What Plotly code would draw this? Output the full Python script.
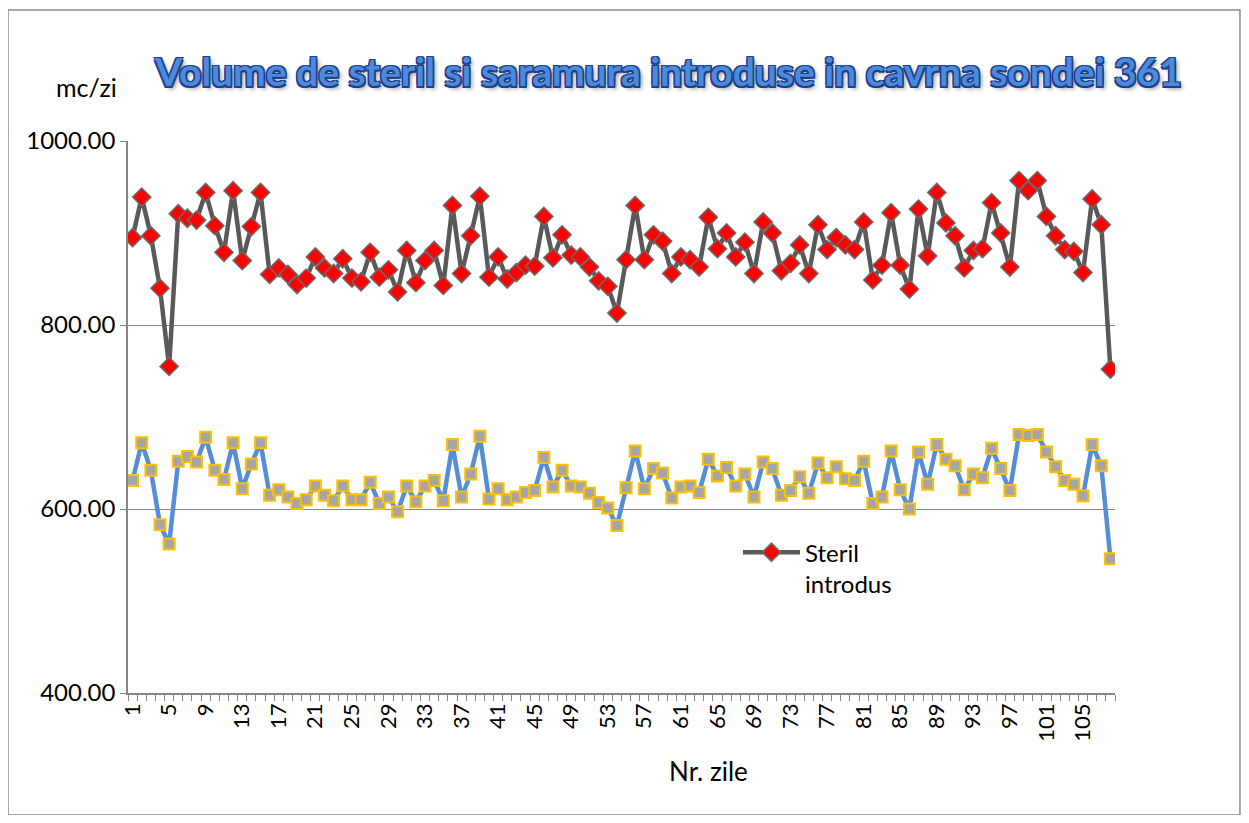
import plotly.graph_objects as go

days = list(range(1, 109))

steril = [895, 939, 897, 840, 755, 921, 916, 914, 944, 908,
          879, 946, 870, 907, 944, 855, 862, 855, 844, 851,
          874, 862, 856, 872, 851, 847, 879, 852, 860, 836,
          881, 846, 870, 881, 843, 930, 856, 897, 940, 852,
          874, 850, 857, 865, 864, 918, 873, 898, 876, 874,
          863, 848, 842, 813, 871, 930, 871, 898, 891, 856,
          874, 871, 863, 917, 883, 900, 874, 890, 856, 912,
          900, 859, 867, 887, 856, 909, 882, 895, 887, 882,
          912, 849, 865, 922, 865, 839, 926, 875, 944, 911,
          897, 862, 881, 883, 933, 900, 863, 957, 946, 957,
          918, 897, 882, 880, 857, 937, 909, 752]

saramura = [631, 672, 642, 583, 562, 652, 657, 651, 678, 642,
            632, 672, 622, 649, 672, 615, 621, 613, 606, 610,
            625, 615, 609, 625, 610, 610, 629, 606, 613, 597,
            625, 608, 625, 631, 609, 670, 613, 638, 679, 611,
            622, 610, 613, 618, 620, 656, 624, 642, 625, 624,
            617, 607, 601, 582, 623, 663, 622, 644, 639, 612,
            624, 625, 618, 654, 636, 645, 625, 638, 613, 651,
            644, 615, 620, 635, 617, 650, 634, 646, 633, 631,
            652, 606, 613, 663, 621, 600, 662, 627, 670, 654,
            647, 621, 638, 634, 666, 644, 620, 681, 680, 681,
            662, 646, 631, 627, 614, 670, 647, 546]

tick_vals = list(range(1, 109, 4))
tick_text = [str(v) for v in tick_vals]

FONT = "Lato, 'Open Sans', sans-serif"

fig = go.Figure()

fig.add_trace(go.Scatter(
    x=days, y=saramura, mode="lines+markers", name="Saramura",
    showlegend=False,
    line=dict(color="#558ED5", width=4.5),
    marker=dict(symbol="square", size=11, color="#A6A6A6",
                line=dict(color="#FFC000", width=2)),
))

fig.add_trace(go.Scatter(
    x=days, y=steril, mode="lines+markers", name="Steril<br>introdus",
    line=dict(color="#595959", width=4.5),
    marker=dict(symbol="diamond", size=14, color="#FF0000",
                line=dict(color="#6A6A6A", width=1.5)),
))

fig.update_layout(
    width=1233, height=807,
    margin=dict(l=120, r=126, t=133, b=122),
    paper_bgcolor="white", plot_bgcolor="white",
    font=dict(family=FONT, size=15, color="#000000"),
    showlegend=True,
    legend=dict(x=0.618, y=0.295, xanchor="left", yanchor="top", valign="top",
                bgcolor="rgba(0,0,0,0)", font=dict(size=24, family=FONT),
                itemwidth=57),
    xaxis=dict(
        range=[0.5, 108.5], tickmode="array", tickvals=tick_vals, ticktext=tick_text,
        tickangle=-90, ticks="", showgrid=False, zeroline=False,
        showline=True, linecolor="#868686", linewidth=1.5,
        tickfont=dict(size=22, family=FONT),
        minor=dict(ticks="outside", tick0=0.5, dtick=1, ticklen=6,
                   tickcolor="#868686", tickwidth=1, showgrid=False),
    ),
    yaxis=dict(
        range=[400, 1000], tickmode="array", tickvals=[400, 600, 800, 1000],
        tickformat=".2f", showgrid=True, gridcolor="#868686", gridwidth=1.2,
        zeroline=False, showline=True, linecolor="#868686", linewidth=1.5,
        ticks="outside", ticklen=6, tickcolor="#868686",
        tickfont=dict(size=24, family=FONT),
    ),
    annotations=[
        dict(text="Volume de steril si saramura introduse in cavrna sondei 361",
             xref="paper", yref="paper", x=0.547, y=1.126, xanchor="center", yanchor="middle",
             showarrow=False,
             font=dict(size=39, family="Lato, sans-serif", weight="bold", color="#4A8BDB",
                       shadow="-1.5px -1.5px 0 #1F3F8F, 1.5px -1.5px 0 #1F3F8F, -1.5px 1.5px 0 #1F3F8F, 1.5px 1.5px 0 #1F3F8F, 3px 3px 4px #999")),
        dict(text="mc/zi", xref="paper", yref="paper", x=-0.042, y=1.098,
             xanchor="center", yanchor="middle", showarrow=False,
             font=dict(size=25, family=FONT)),
        dict(text="Nr. zile", xref="paper", yref="paper", x=0.588, y=-0.141,
             xanchor="center", yanchor="middle", showarrow=False,
             font=dict(size=26, family=FONT)),
    ],
    shapes=[
        dict(type="rect", xref="paper", yref="paper",
             x0=-0.1216, x1=1.1266, y0=-0.221, y1=1.2373,
             line=dict(color="#8C8C8C", width=1.5), fillcolor="rgba(0,0,0,0)", layer="below"),
    ],
)

fig.write_html("out.html")
